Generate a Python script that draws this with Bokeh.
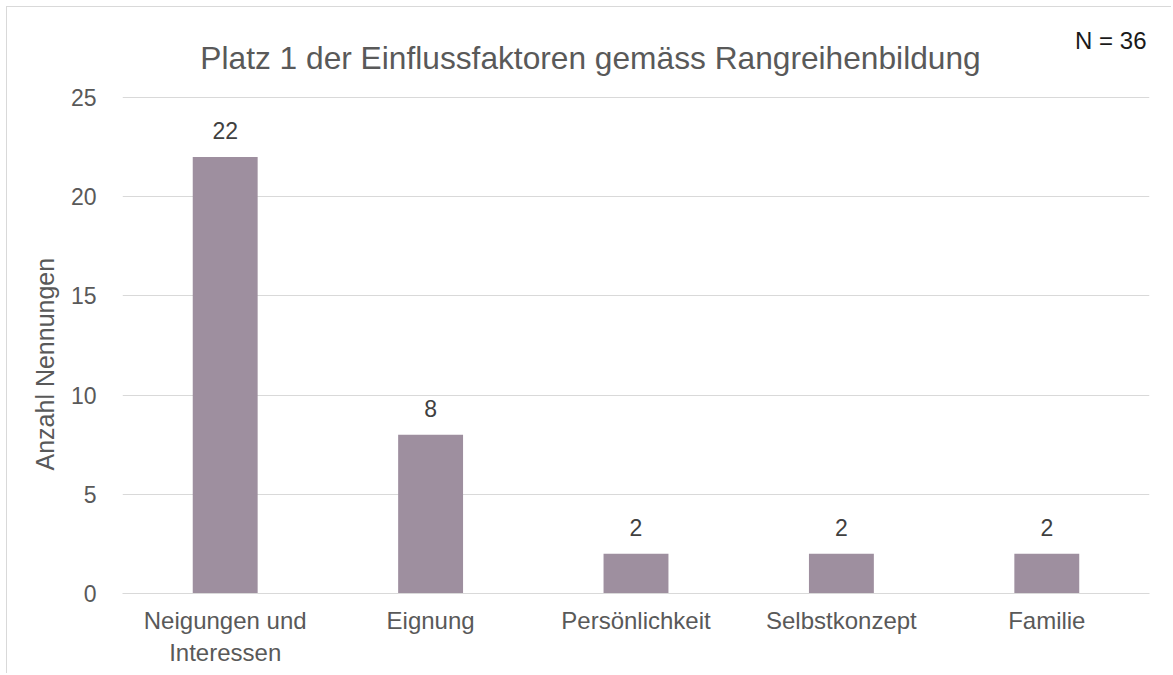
from bokeh.plotting import figure
from bokeh.models import ColumnDataSource, Label, LabelSet, FactorRange, Range1d, Title
from bokeh.core.properties import value
from bokeh.embed import file_html
from bokeh.resources import INLINE

categories = ["Neigungen und\nInteressen", "Eignung", "Persönlichkeit", "Selbstkonzept", "Familie"]
counts = [22, 8, 2, 2, 2]
y_ticks = [0, 5, 10, 15, 20, 25]
title_text = "Platz 1 der Einflussfaktoren gemäss Rangreihenbildung"
n_text = "N = 36"
y_label = "Anzahl Nennungen"

FONT = "Liberation Sans"
BAR = "#9e8f9f"
GRID = "#d9d9d9"
W, H = 1165, 667
BOTTOM = 81
FRAME_H = H - BOTTOM
AXIS_PX = 496  # pixels spanned by 0..25
y_end = 25 * FRAME_H / AXIS_PX

src = ColumnDataSource(dict(cat=categories, val=counts, txt=[str(v) for v in counts]))

p = figure(width=W, height=H, x_range=FactorRange(*categories), y_range=Range1d(0, y_end),
           title=None, output_backend="svg", toolbar_location=None,
           min_border_left=115, min_border_right=23, min_border_top=0, min_border_bottom=BOTTOM)
p.styles = {"border-left": "1px solid #d9d9d9", "border-top": "1px solid #d9d9d9",
            "margin-left": "6px", "margin-top": "6px"}
p.outline_line_color = None
p.background_fill_color = "white"
p.border_fill_color = "white"
p.x_range.range_padding = 0

p.vbar(x="cat", top="val", width=0.316, source=src, fill_color=BAR, line_color=None)

p.add_layout(LabelSet(x="cat", y="val", text="txt", source=src, y_offset=18,
                      text_align="center", text_baseline="alphabetic",
                      text_font=value(FONT), text_font_size="23px", text_color="#404040"))

p.xgrid.grid_line_color = None
p.ygrid.grid_line_color = GRID
p.ygrid.grid_line_width = 1
p.yaxis.ticker = y_ticks
p.yaxis.axis_line_color = None
p.yaxis.major_tick_line_color = None
p.yaxis.minor_tick_line_color = None
p.yaxis.major_label_text_font = FONT
p.yaxis.major_label_text_font_size = "23px"
p.yaxis.major_label_text_color = "#595959"
p.yaxis.major_label_standoff = 20

p.xaxis.axis_line_color = GRID
p.xaxis.major_tick_line_color = None
p.xaxis.minor_tick_line_color = None
p.xaxis.major_label_text_font = FONT
p.xaxis.major_label_text_font_size = "24px"
p.xaxis.major_label_text_color = "#595959"
p.xaxis.major_label_standoff = 7

ytitle = Title(text=y_label, align="left", offset=123, text_font=FONT, text_font_size="25px",
               text_font_style="normal", text_color="#595959", standoff=17)
p.left = list(p.left) + [ytitle]

# screen units are relative to the frame's lower-left corner
p.add_layout(Label(x=468, y=536, x_units="screen", y_units="screen", text=title_text,
                   text_align="center", text_baseline="alphabetic",
                   text_font=FONT, text_font_size="31.7px", text_color="#595959"))
p.add_layout(Label(x=1024, y=553, x_units="screen", y_units="screen", text=n_text,
                   text_align="right", text_baseline="alphabetic",
                   text_font=FONT, text_font_size="24px", text_color="#1a1a1a"))

open("out.html", "w").write(file_html(p, INLINE))
